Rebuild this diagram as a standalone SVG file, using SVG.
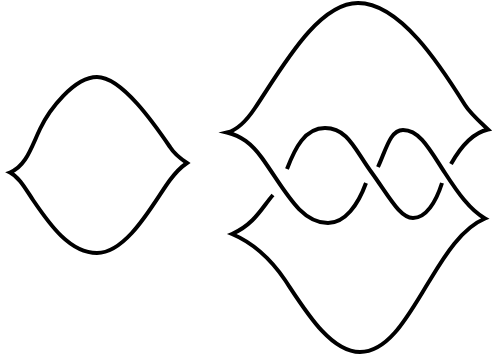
<svg xmlns="http://www.w3.org/2000/svg" width="492" height="358" viewBox="0 0 492 358">
<style>.k{fill:none;stroke:#000;stroke-width:4;stroke-linejoin:miter;stroke-miterlimit:12;stroke-linecap:butt}</style>
<rect width="492" height="358" fill="#fff"/>
<path class="k" d="M10,172.5 C26,166 31,148 40,129 C49,110 74,77 97,77 C122,77 155,125 170,147 C175,155 181,159 187,163 C181,167 176,172 170,180 C155,200 128,253 97,253 C70,253 50,225 33,200 C25,188 19,177 10,172.5 Z"/>
<path class="k" d="M366,183 C358,205 345,223 328,223 C300,223 285,190 262,158 C251,143 241,136 227,132.5 C238,130 247,120 255,108 C283,66 318,3 358,3 C400,3 440,65 465,105 C470,113 479,121 488,129.5 C472,133 460,148 451,164"/>
<path class="k" d="M287,169 C295,148 305,128 325,128 C348,128 355,150 372,173 C390,198 400,218 413,218 C426,218 436,202 442,183"/>
<path class="k" d="M273,195 C263,206 255,224 232,234 C251,242 268,255 285,280 C305,310 330,352 360,352 C390,352 410,312 430,280 C445,255 462,228 485,218.5 C470,210 458,193 445,173 C430,150 420,130 403,130 C390,130 386,150 378,167"/>
</svg>
